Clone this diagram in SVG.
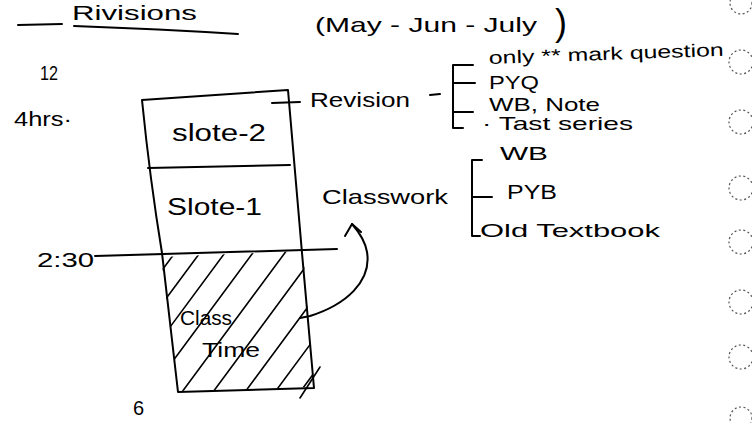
<svg xmlns="http://www.w3.org/2000/svg" width="752" height="423" viewBox="0 0 752 423">
<style>
text{font-family:"Liberation Sans","DejaVu Sans",sans-serif;fill:#000}
.ln{fill:none;stroke:#000;stroke-width:2;stroke-linecap:round;stroke-linejoin:round}
.ht{fill:none;stroke:#000;stroke-width:1.6;stroke-linecap:round}
.hole{fill:none;stroke:#555;stroke-width:1.2;stroke-dasharray:2 2.5}
</style>
<defs>
<clipPath id="hatchClip"><polygon points="161,257 303,251 314,387 178,391"/></clipPath>
</defs>
<rect width="752" height="423" fill="#fff"/>

<g id="title">
<text x="72" y="20" font-size="20" textLength="125" lengthAdjust="spacingAndGlyphs">Rivisions</text>
<path class="ln" d="M18,25 L62,24 M74,26 Q160,29 238,34"/>
</g>

<g id="months">
<text x="315" y="32" font-size="21" textLength="222" lengthAdjust="spacingAndGlyphs">(May - Jun - July</text>
<text x="555" y="35" font-size="36">)</text>
</g>

<g id="label-12"><text x="40" y="80" font-size="21" textLength="18" lengthAdjust="spacingAndGlyphs">12</text></g>
<g id="label-4hrs"><text x="14" y="126" font-size="21" textLength="58" lengthAdjust="spacingAndGlyphs">4hrs·</text></g>
<g id="label-230"><text x="37" y="267" font-size="20" textLength="57" lengthAdjust="spacingAndGlyphs">2:30</text></g>
<g id="label-6"><text x="133" y="415" font-size="20">6</text></g>

<g id="timeline-box">
<path class="ln" d="M142,100 L288,90 L302,253 L314,388 L178,392 L162,253 Q150,180 142,100 Z"/>
<path class="ln" d="M148,168 L290,165"/>
<g clip-path="url(#hatchClip)">
<path class="ht" d="M72,392 L177,250 M97,392 L202,250 M122,392 L227,250 M150,392 L255,250 M182,392 L287,250 M213,392 L318,250 M245,392 L350,250 M275,392 L380,250 M300,392 L405,250"/>
</g>
<path class="ht" d="M300,398 L320,367"/>
</g>

<g id="slot-2"><text x="172" y="141" font-size="23" textLength="94" lengthAdjust="spacingAndGlyphs">slote-2</text></g>
<g id="slot-1"><text x="167" y="215" font-size="24" textLength="95" lengthAdjust="spacingAndGlyphs">Slote-1</text></g>
<g id="class-time">
<text x="180" y="325" font-size="20" textLength="52" lengthAdjust="spacingAndGlyphs">Class</text>
<text x="202" y="357" font-size="20" textLength="58" lengthAdjust="spacingAndGlyphs">Time</text>
</g>

<g id="revision">
<text x="310" y="107" font-size="21" textLength="100" lengthAdjust="spacingAndGlyphs">Revision</text>
<path class="ln" d="M473,65 L453,65 L453,128 L463,128 M453,83 L475,83 M453,112 L473,112"/>
<text x="489" y="64" font-size="18" textLength="235" lengthAdjust="spacingAndGlyphs" transform="rotate(-2 489 64)">only ** mark question</text>
<text x="489" y="89" font-size="19" textLength="50" lengthAdjust="spacingAndGlyphs">PYQ</text>
<text x="489" y="111" font-size="19" textLength="111" lengthAdjust="spacingAndGlyphs">WB, Note</text>
<text x="482" y="130" font-size="19" textLength="151" lengthAdjust="spacingAndGlyphs">· Tast series</text>
</g>

<g id="classwork">
<text x="322" y="204" font-size="21" textLength="126" lengthAdjust="spacingAndGlyphs">Classwork</text>
<path class="ln" d="M482,160 L472,160 L472,236 L480,236 M472,197 L492,197"/>
<text x="500" y="160" font-size="19" textLength="48" lengthAdjust="spacingAndGlyphs">WB</text>
<text x="507" y="199" font-size="20" textLength="50" lengthAdjust="spacingAndGlyphs">PYB</text>
<text x="480" y="237" font-size="19" textLength="180" lengthAdjust="spacingAndGlyphs">Old Textbook</text>
</g>

<g id="connectors">
<path class="ln" d="M95,256 L337,249"/>
<path class="ln" d="M272,103 L300,102"/>
<path class="ln" d="M430,95 L440,94"/>
<path class="ln" d="M300,318 L310,316 C345,305 372,282 367,252 C365,240 359,232 352,224"/>
<path class="ln" d="M345,236 L352,224 L361,232"/>
</g>

<g id="binder-holes">
<circle class="hole" cx="741" cy="3" r="11"/>
<circle class="hole" cx="741" cy="62" r="12"/>
<circle class="hole" cx="741" cy="122" r="12"/>
<circle class="hole" cx="741" cy="188" r="12"/>
<circle class="hole" cx="741" cy="242" r="12"/>
<circle class="hole" cx="741" cy="302" r="12"/>
<circle class="hole" cx="741" cy="357" r="12"/>
<circle class="hole" cx="741" cy="418" r="11"/>
</g>
</svg>
